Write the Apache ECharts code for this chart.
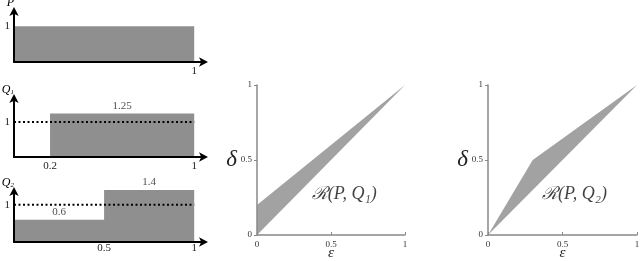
<!DOCTYPE html>
<html><head><meta charset="utf-8">
<script src="https://cdn.jsdelivr.net/npm/echarts@6/dist/echarts.min.js"></script>
<style>html,body{margin:0;padding:0;background:#fff}#c{width:640px;height:261px}</style>
</head><body><div id="c"></div>
<script>
// ---- data ----
const densityP = [[0, 1], [1, 1]];
const densityQ1 = [[0, 0], [0.2, 0], [0.2, 1.25], [1, 1.25]];
const densityQ2 = [[0, 0.6], [0.5, 0.6], [0.5, 1.4], [1, 1.4]];
const refLine = [[0, 1], [1, 1]];
const xTicksP = [1];
const xTicksQ1 = [0.2, 1];
const xTicksQ2 = [0.5, 1];
const yTicksDensity = [1];
const notesQ1 = [[0.6, 1.25, '1.25']];
const notesQ2 = [[0.25, 0.6, '0.6'], [0.75, 1.4, '1.4']];
const regionQ1 = [[0, 0], [0, 0.2], [1, 1]];
const regionQ2 = [[0, 0], [0.3, 0.5], [1, 1]];
const regionLabel1 = [[0.59, 0.27, '\u211B(P, Q\u2081)']];
const regionLabel2 = [[0.58, 0.27, '\u211B(P, Q\u2082)']];

const serif = '"Liberation Serif","DejaVu Serif",serif';
const chart = echarts.init(document.getElementById('c'), null, {renderer: 'canvas'});

const grids = [
  {left: 14, top: 10, width: 191, height: 52},
  {left: 14, top: 97, width: 191, height: 60},
  {left: 14, top: 190, width: 191, height: 52},
  {left: 257, top: 85, width: 148, height: 150},
  {left: 488, top: 85, width: 149, height: 150}
].map(g => Object.assign({outerBoundsMode: 'none', containLabel: false}, g));

const yMaxes = [1.45, 1.72, 1.4];
const xTickSets = [xTicksP, xTicksQ1, xTicksQ2];
const xMargins = [4, 4, 1];
const yNames = ['P', '{q|Q}{s|1}', '{q|Q}{s|2}'];

const xAxes = [], yAxes = [];
for (let i = 0; i < 3; i++) {
  xAxes.push({
    gridIndex: i, type: 'value', min: 0, max: 1.06, z: 10,
    axisLine: {show: true, lineStyle: {color: '#000', width: 2}, symbol: ['none', 'arrow'], symbolSize: [7, 9], symbolOffset: [0, 3]},
    axisTick: {show: false}, splitLine: {show: false},
    axisLabel: {show: true, customValues: xTickSets[i], fontFamily: serif, fontSize: 11, color: '#222', margin: xMargins[i]}
  });
  yAxes.push({
    gridIndex: i, type: 'value', min: 0, max: yMaxes[i], z: 10,
    name: yNames[i], nameLocation: 'end', nameGap: 1, nameMoveOverlap: false,
    nameTextStyle: {fontFamily: serif, fontStyle: 'italic', fontSize: 12, color: '#000', align: 'right',
      rich: {q: {fontFamily: serif, fontStyle: 'italic', fontSize: 12}, s: {fontFamily: serif, fontSize: 7, padding: [6, 0, 0, 0]}}},
    axisLine: {show: true, lineStyle: {color: '#000', width: 2}, symbol: ['none', 'arrow'], symbolSize: [7, 9], symbolOffset: [0, 3]},
    axisTick: {show: false}, splitLine: {show: false},
    axisLabel: {show: true, customValues: yTicksDensity, fontFamily: serif, fontSize: 11, color: '#222', margin: 4}
  });
}
for (let i = 3; i < 5; i++) {
  xAxes.push({
    gridIndex: i, type: 'value', min: 0, max: 1, interval: 0.5, z: 10,
    name: '\u03B5', nameLocation: 'middle', nameGap: 11, nameMoveOverlap: false,
    nameTextStyle: {fontFamily: serif, fontStyle: 'italic', fontSize: 15, color: '#222'},
    axisLine: {show: true, lineStyle: {color: '#888', width: 1.5}},
    axisTick: {show: true, inside: true, length: 3, lineStyle: {color: '#888'}}, splitLine: {show: false},
    axisLabel: {fontFamily: serif, fontSize: 9, color: '#333', margin: 5, formatter: v => String(v)}
  });
  yAxes.push({
    gridIndex: i, type: 'value', min: 0, max: 1, interval: 0.5, z: 10,
    name: '\u03B4', nameLocation: 'middle', nameGap: 20, nameRotate: 0, nameMoveOverlap: false,
    nameTextStyle: {fontFamily: serif, fontStyle: 'italic', fontSize: 23, color: '#222', padding: [0, 0, 6, 0]},
    axisLine: {show: true, lineStyle: {color: '#888', width: 1.5}},
    axisTick: {show: true, length: 3, lineStyle: {color: '#888'}}, splitLine: {show: false},
    axisLabel: {fontFamily: serif, fontSize: 9, color: '#333', margin: 5, formatter: v => String(v)}
  });
}

function densityArea(idx, data) {
  return {type: 'line', xAxisIndex: idx, yAxisIndex: idx, data: data, symbol: 'none', silent: true,
    lineStyle: {width: 0}, areaStyle: {color: '#8f8f8f', opacity: 1}, z: 2};
}
function dotted(idx) {
  return {type: 'line', xAxisIndex: idx, yAxisIndex: idx, data: refLine, symbol: 'none', silent: true,
    lineStyle: {color: '#000', width: 2, type: [2, 2.5]}, z: 5};
}
function notes(idx, data) {
  return {type: 'scatter', xAxisIndex: idx, yAxisIndex: idx, data: data, symbolSize: 0, silent: true, z: 6,
    label: {show: true, position: 'top', distance: 2, formatter: p => p.data[2], fontFamily: serif, fontSize: 11, color: '#222'}};
}
function region(idx, pts) {
  return {type: 'custom', xAxisIndex: idx, yAxisIndex: idx, data: [0], silent: true, z: 2,
    renderItem: (params, api) => ({type: 'polygon', shape: {points: pts.map(p => api.coord(p))},
      style: {fill: '#a2a2a2', stroke: null}})};
}
function regionText(idx, data) {
  return {type: 'scatter', xAxisIndex: idx, yAxisIndex: idx, data: data, symbolSize: 0, silent: true, z: 6,
    label: {show: true, position: 'inside', formatter: p => p.data[2], fontFamily: serif, fontStyle: 'italic', fontSize: 18, color: '#111'}};
}

chart.setOption({
  animation: false,
  grid: grids, xAxis: xAxes, yAxis: yAxes,
  series: [
    densityArea(0, densityP),
    densityArea(1, densityQ1), dotted(1), notes(1, notesQ1),
    densityArea(2, densityQ2), dotted(2), notes(2, notesQ2),
    region(3, regionQ1), regionText(3, regionLabel1),
    region(4, regionQ2), regionText(4, regionLabel2)
  ]
});
</script></body></html>
